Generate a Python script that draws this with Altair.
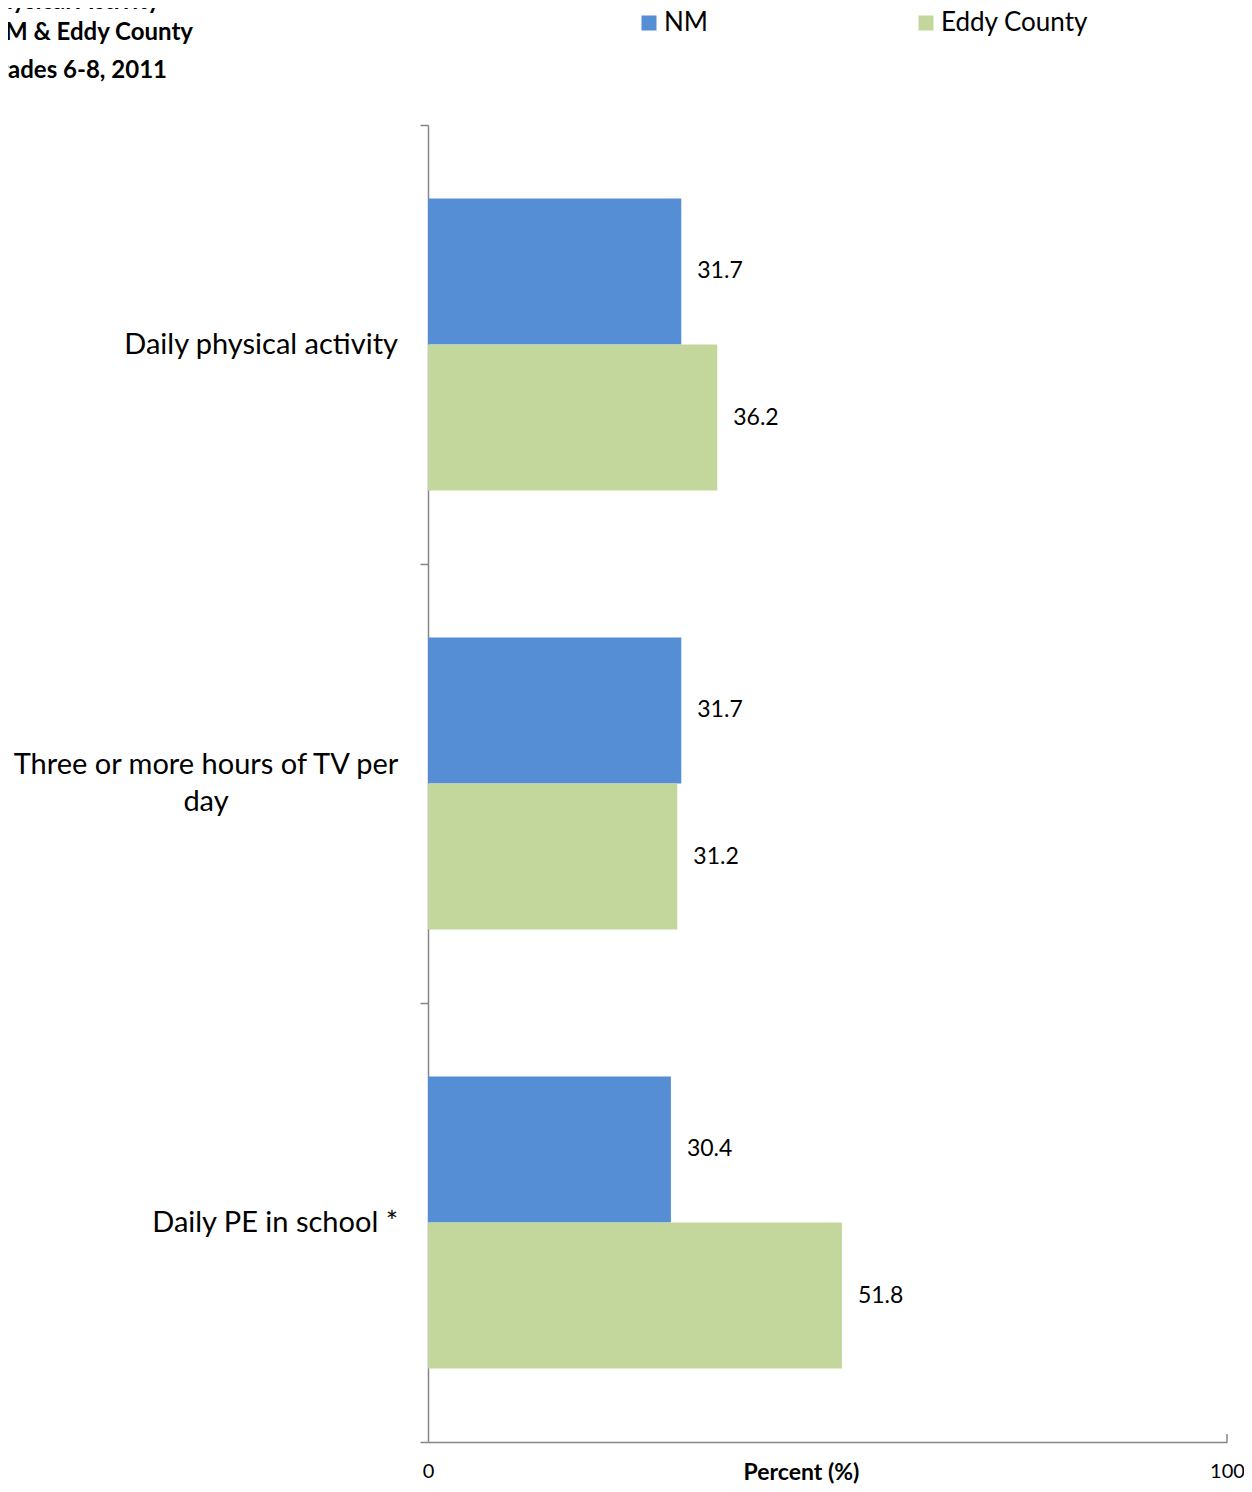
import altair as alt
import pandas as pd

categories = ["Daily physical activity", "Three or more hours of TV per day", "Daily PE in school *"]
label_lines = ["Daily physical activity", "Three or more hours of TV per\nday", "Daily PE in school *"]
series = ["NM", "Eddy County"]
nm_values = [31.7, 31.7, 30.4]
eddy_values = [36.2, 31.2, 51.8]
colors = ["#558ED5", "#C3D69B"]
title_lines = ["Physical Activity", "NM & Eddy County", "Grades 6-8, 2011"]
x_ticks = [0, 100]

rows = []
for c, a, b in zip(categories, nm_values, eddy_values):
    rows.append({"category": c, "series": "NM", "value": a})
    rows.append({"category": c, "series": "Eddy County", "value": b})
df = pd.DataFrame(rows)
lab_df = pd.DataFrame({"category": categories, "label": label_lines,
                       "multi": ["\n" in l for l in label_lines]})

FONT = "Lato"
GRAY = "#868686"

y_enc = alt.Y("category:N", sort=categories,
              scale=alt.Scale(paddingInner=0, paddingOuter=0),
              axis=alt.Axis(title=None, labels=False, tickBand="extent", tickSize=8,
                            tickColor=GRAY, domainColor=GRAY, tickWidth=1.5, domainWidth=1.5))
yoff = alt.YOffset("series:N", sort=series,
                   scale=alt.Scale(paddingInner=0, paddingOuter=0.5034))
x_enc = alt.X("value:Q", scale=alt.Scale(domain=[0, 100], nice=False),
              axis=alt.Axis(values=x_ticks, grid=False, tickSize=0, labelFontSize=20,
                            labelPadding=29, labelBaseline="middle", labelFont=FONT,
                            labelColor="#000", domainColor=GRAY, domainWidth=1.5,
                            labelOverlap=False, labelFlush=False,
                            title="Percent (%)", titleFont=FONT, titleFontSize=23,
                            titleFontWeight="bold", titleX=373, titleY=30,
                            titleBaseline="middle", titleColor="#000"))

bars = alt.Chart(df).mark_bar().encode(
    x=x_enc, y=y_enc, yOffset=yoff,
    color=alt.Color("series:N", sort=series,
                    scale=alt.Scale(domain=series, range=colors),
                    legend=alt.Legend(title=None, orient="none", legendX=208, legendY=-115,
                                      direction="horizontal", columns=2, columnPadding=205,
                                      symbolType="square", symbolSize=225, symbolStrokeWidth=0,
                                      labelFontSize=26, labelFont=FONT, labelOffset=2,
                                      labelColor="#000"))
)

vals = alt.Chart(df).mark_text(align="left", baseline="middle", dx=16, fontSize=23,
                               font=FONT, color="#000").encode(
    x="value:Q", y=alt.Y("category:N", sort=categories), yOffset=yoff,
    text=alt.Text("value:Q", format=".1f"))

ylab_single = alt.Chart(lab_df).transform_filter("!datum.multi").mark_text(
    align="right", baseline="middle", fontSize=29, font=FONT, color="#000").encode(
    y=alt.Y("category:N", sort=categories), x=alt.value(-30), text="label:N")

ylab_multi = alt.Chart(lab_df).transform_filter("datum.multi").mark_text(
    align="center", baseline="middle", fontSize=29, font=FONT, color="#000",
    lineBreak="\n", lineHeight=37, dy=-19).encode(
    y=alt.Y("category:N", sort=categories), x=alt.value(-222), text="label:N")

title_df = pd.DataFrame({"t": title_lines, "py": [-123, -92, -54], "px": [-268, -235, -261]})
titles = alt.Chart(title_df).mark_text(align="right", baseline="middle", fontSize=24,
                                       font=FONT, fontWeight="bold", color="#000").encode(
    y=alt.Y("py:Q", scale=None), x=alt.X("px:Q", scale=None), text="t:N")

tick100 = alt.Chart(pd.DataFrame({"v": [100]})).mark_rule(color=GRAY, strokeWidth=1.5).encode(
    x="v:Q", y=alt.value(1309), y2=alt.value(1317))

chart = alt.layer(bars, vals, ylab_single, ylab_multi, titles, tick100).properties(
    width=799, height=1317,
    autosize=alt.AutoSizeParams(type="none"),
    padding={"left": 420, "top": 117, "right": 17, "bottom": 42},
).configure_view(stroke=None)

chart.save("out.html", embed_options={"renderer": "svg", "actions": False})
